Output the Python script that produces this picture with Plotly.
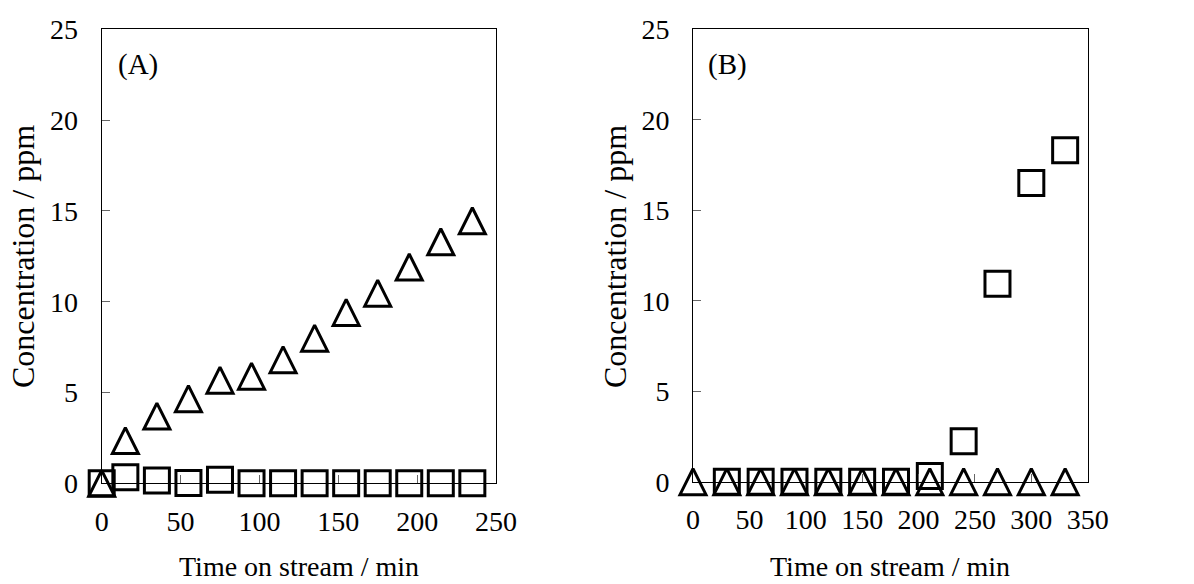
import plotly.graph_objects as go

# Panel (A)
time_a = [0, 15, 35, 55, 75, 95, 115, 135, 155, 175, 195, 215, 235]
tri_a = [0.0, 2.35, 3.70, 4.66, 5.68, 5.90, 6.81, 7.99, 9.41, 10.47, 11.91, 13.30, 14.46]
sq_a = [0.0, 0.34, 0.15, 0.02, 0.20, 0.0, 0.0, 0.0, 0.0, 0.0, 0.0, 0.0, 0.0]

# Panel (B)
time_b_tri = [0, 30, 60, 90, 120, 150, 180, 210, 240, 270, 300, 330]
tri_b = [0.0, 0.0, 0.0, 0.0, 0.0, 0.0, 0.0, 0.0, 0.0, 0.0, 0.0, 0.0]
time_b_sq = [30, 60, 90, 120, 150, 180, 210, 240, 270, 300, 330]
sq_b = [0.0, 0.0, 0.0, 0.0, 0.0, 0.0, 0.31, 2.23, 10.94, 16.50, 18.31]

x_ticks_a = [0, 50, 100, 150, 200, 250]
x_ticks_b = [0, 50, 100, 150, 200, 250, 300, 350]
y_ticks = [0, 5, 10, 15, 20, 25]

FONT = "Liberation Serif"
W, H = 1194, 584
TRI_SIZE = 26
SQ_SIZE = 25

sq_marker = dict(symbol="square-open", size=SQ_SIZE, color="black",
                 line=dict(color="black", width=3))
# apex-up triangle with equal width and height, centred on the point
tri_marker = dict(symbol="arrow-down-open", size=TRI_SIZE, angle=180,
                  standoff=TRI_SIZE / 2, color="black",
                  line=dict(color="black", width=3))

fig = go.Figure()
fig.add_trace(go.Scatter(x=time_a, y=sq_a, mode="markers", marker=sq_marker,
                         xaxis="x", yaxis="y", cliponaxis=False, showlegend=False))
fig.add_trace(go.Scatter(x=time_a, y=tri_a, mode="markers", marker=tri_marker,
                         xaxis="x", yaxis="y", cliponaxis=False, showlegend=False))
fig.add_trace(go.Scatter(x=time_b_sq, y=sq_b, mode="markers", marker=sq_marker,
                         xaxis="x2", yaxis="y2", cliponaxis=False, showlegend=False))
fig.add_trace(go.Scatter(x=time_b_tri, y=tri_b, mode="markers", marker=tri_marker,
                         xaxis="x2", yaxis="y2", cliponaxis=False, showlegend=False))

axis_common = dict(showgrid=False, zeroline=False, showline=True, mirror=True,
                   automargin=False,
                   linecolor="black", linewidth=1, ticks="inside", ticklen=8,
                   tickcolor="#666666", tickwidth=1,
                   tickfont=dict(family=FONT, size=28, color="black"))

ax_a = (101.7 / W, 496.0 / W)
ax_b = (693.0 / W, 1087.7 / W)
top = 1 - 29.3 / H
bot_a = 1 - 483.3 / H
bot_b = 1 - 481.7 / H

fig.update_layout(
    template="none",
    width=W, height=H,
    margin=dict(l=0, r=0, t=0, b=0, autoexpand=False),
    paper_bgcolor="white", plot_bgcolor="white",
    font=dict(family=FONT, size=28, color="black"),
    xaxis=dict(domain=list(ax_a), range=[0, 250], tickvals=x_ticks_a,
               anchor="y", ticklabelstandoff=13, **axis_common),
    yaxis=dict(domain=[bot_a, top], range=[0, 25], tickvals=y_ticks,
               anchor="x", ticklabelstandoff=17, **axis_common),
    xaxis2=dict(domain=list(ax_b), range=[0, 350], tickvals=x_ticks_b,
                anchor="y2", ticklabelstandoff=13, **axis_common),
    yaxis2=dict(domain=[bot_b, top], range=[0, 25], tickvals=y_ticks,
                anchor="x2", ticklabelstandoff=17, **axis_common),
)

annotations = [
    dict(text="(A)", x=137.5 / W, y=1 - 64 / H, size=29),
    dict(text="(B)", x=727 / W, y=1 - 64 / H, size=29),
    dict(text="Time on stream / min", x=(ax_a[0] + ax_a[1]) / 2, y=1 - 566 / H, size=28),
    dict(text="Time on stream / min", x=(ax_b[0] + ax_b[1]) / 2, y=1 - 566 / H, size=28),
    dict(text="Concentration / ppm", x=23 / W, y=1 - 257 / H, textangle=-90, size=32),
    dict(text="Concentration / ppm", x=615 / W, y=1 - 257 / H, textangle=-90, size=32),
]
for a in annotations:
    size = a.pop("size")
    a.update(xref="paper", yref="paper", showarrow=False,
             xanchor="center", yanchor="middle",
             font=dict(family=FONT, size=size, color="black"))
fig.update_layout(annotations=annotations)

fig.write_html("out.html")
